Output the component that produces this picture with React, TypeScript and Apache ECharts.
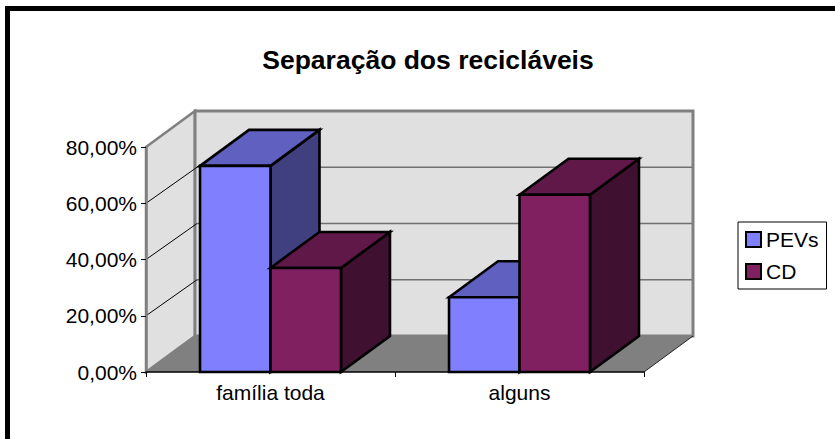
import React, { useEffect, useRef } from "react";
import * as echarts from "echarts";

const titleText = "Separação dos recicláveis";
const categories = ["família toda", "alguns"];
const pevs = [73.3, 26.6];
const cd = [37, 63];
const yTicks = [20, 40, 60, 80];
const seriesNames = ["PEVs", "CD"];
const frontColors = ["#8080ff", "#802060"];
const topColors = ["#6060c0", "#601848"];
const sideColors = ["#404080", "#401030"];

const DX = 49;
const DY = -36;
const font = "'Liberation Sans', Arial, sans-serif";

function poly(points: number[][], fill: string, stroke: string, lineWidth: number) {
  return { type: "polygon", shape: { points }, style: { fill, stroke, lineWidth, lineJoin: "miter" } };
}

function plotEdges(api: any) {
  const band = api.size([1, 0])[0];
  const x0 = api.coord([0, 0])[0] - band / 2;
  const x1 = api.coord([1, 0])[0] + band / 2;
  return [x0, x1];
}

function renderWalls(_: any, api: any) {
  const [x0, x1] = plotEdges(api);
  const y0 = api.coord([0, 0])[1];
  const yTop = api.coord([0, 80])[1];
  const gray = "#808080";
  return {
    type: "group",
    children: [
      poly([[x0, yTop], [x0 + DX, yTop + DY], [x0 + DX, y0 + DY], [x0, y0]], "#e0e0e0", gray, 2.5),
      poly([[x0 + DX, yTop + DY], [x1 + DX, yTop + DY], [x1 + DX, y0 + DY], [x0 + DX, y0 + DY]], "#e0e0e0", gray, 3),
      poly([[x0, y0], [x1, y0], [x1 + DX, y0 + DY], [x0 + DX, y0 + DY]], gray, "none", 0),
      { type: "line", shape: { x1: x1, y1: y0, x2: x1 + DX, y2: y0 + DY }, style: { stroke: "#000", lineWidth: 0.8 } },
    ],
  };
}

function renderGrid(_: any, api: any) {
  const [x0, x1] = plotEdges(api);
  const y = api.coord([0, api.value(0)])[1];
  if (api.value(0) === 80) return { type: "group", children: [] };
  return {
    type: "group",
    children: [
      { type: "line", shape: { x1: x0, y1: y, x2: x0 + DX + 2, y2: y + DY }, style: { stroke: "#000", lineWidth: 1 } },
      { type: "line", shape: { x1: x0 + DX + 2, y1: y + DY, x2: x1 + DX - 1, y2: y + DY }, style: { stroke: "#707070", lineWidth: 1.6 } },
    ],
  };
}

function makeBarRenderer(s: number) {
  return (_: any, api: any) => {
    const cat = api.value(0);
    const [cx, yTop] = api.coord([cat, api.value(1)]);
    const yBase = api.coord([cat, 0])[1];
    const w = api.size([1, 0])[0] * 0.283;
    const l = cx + (s - 1) * w;
    const r = l + w;
    const bw = 2.6;
    return {
      type: "group",
      children: [
        poly([[r, yTop], [r + DX, yTop + DY], [r + DX, yBase + DY], [r, yBase]], sideColors[s], "#000", bw),
        poly([[l, yTop], [l + DX, yTop + DY], [r + DX, yTop + DY], [r, yTop]], topColors[s], "#000", bw),
        poly([[l, yTop], [r, yTop], [r, yBase], [l, yBase]], frontColors[s], "#000", bw),
      ],
    };
  };
}

export default function App() {
  const ref = useRef<HTMLDivElement>(null);
  useEffect(() => {
    const chart = echarts.init(ref.current!, null, { renderer: "svg" });
    chart.setOption({
      animation: false,
      backgroundColor: "#fff",
      title: {
        text: titleText,
        left: 423,
        top: 41,
        textAlign: "center",
        textStyle: { fontFamily: font, fontSize: 26.5, fontWeight: "bold", color: "#000" },
      },
      legend: {
        left: 738,
        top: 222,
        orient: "vertical",
        align: "left",
        padding: [7, 8, 7, 7],
        itemWidth: 15,
        itemHeight: 15,
        itemGap: 11,
        borderColor: "#000",
        borderWidth: 1,
        backgroundColor: "#fff",
        selectedMode: false,
        textStyle: { fontFamily: font, fontSize: 21, color: "#000" },
        data: seriesNames.map((name, i) => ({
          name,
          icon: "rect",
          itemStyle: { color: frontColors[i], borderColor: "#000", borderWidth: 2 },
        })),
      },
      grid: { left: 146, top: 147, width: 498, height: 225, containLabel: false },
      xAxis: {
        type: "category",
        data: categories,
        z: 10,
        axisLine: { lineStyle: { color: "#000", width: 1.5 } },
        axisTick: { show: true, length: 5, lineStyle: { color: "#000", width: 1 } },
        axisLabel: { color: "#000", fontFamily: font, fontSize: 21, margin: 10 },
      },
      yAxis: {
        type: "value",
        min: 0,
        max: 80,
        interval: 20,
        z: 10,
        axisLine: { show: true, lineStyle: { color: "#808080", width: 2.5 } },
        axisTick: { show: true, length: 5, lineStyle: { color: "#000", width: 1 } },
        axisLabel: {
          color: "#000",
          fontFamily: font,
          fontSize: 21,
          margin: 9,
          formatter: (v: number) => v.toFixed(2).replace(".", ",") + "%",
        },
        splitLine: { show: false },
      },
      series: [
        { type: "custom", name: "walls", silent: true, z: 1, data: [[0]], renderItem: renderWalls, encode: { x: 0 } },
        { type: "custom", name: "grid", silent: true, z: 2, data: yTicks.map((v) => [v]), renderItem: renderGrid, encode: { y: 0 } },
        ...[pevs, cd].map((vals, s) => ({
          type: "custom",
          name: seriesNames[s],
          z: 3 + s,
          itemStyle: { color: frontColors[s] },
          data: vals.map((v, i) => [i, v]),
          encode: { x: 0, y: 1 },
          renderItem: makeBarRenderer(s),
        })),
      ],
      graphic: [
        { type: "rect", z: 100, shape: { x: 5, y: 6, width: 830, height: 5 }, style: { fill: "#000" } },
        { type: "rect", z: 100, shape: { x: 5, y: 6, width: 5, height: 433 }, style: { fill: "#000" } },
      ],
    });
    return () => chart.dispose();
  }, []);
  return <div ref={ref} style={{ position: "fixed", left: 0, top: 0, width: 835, height: 439 }} />;
}
